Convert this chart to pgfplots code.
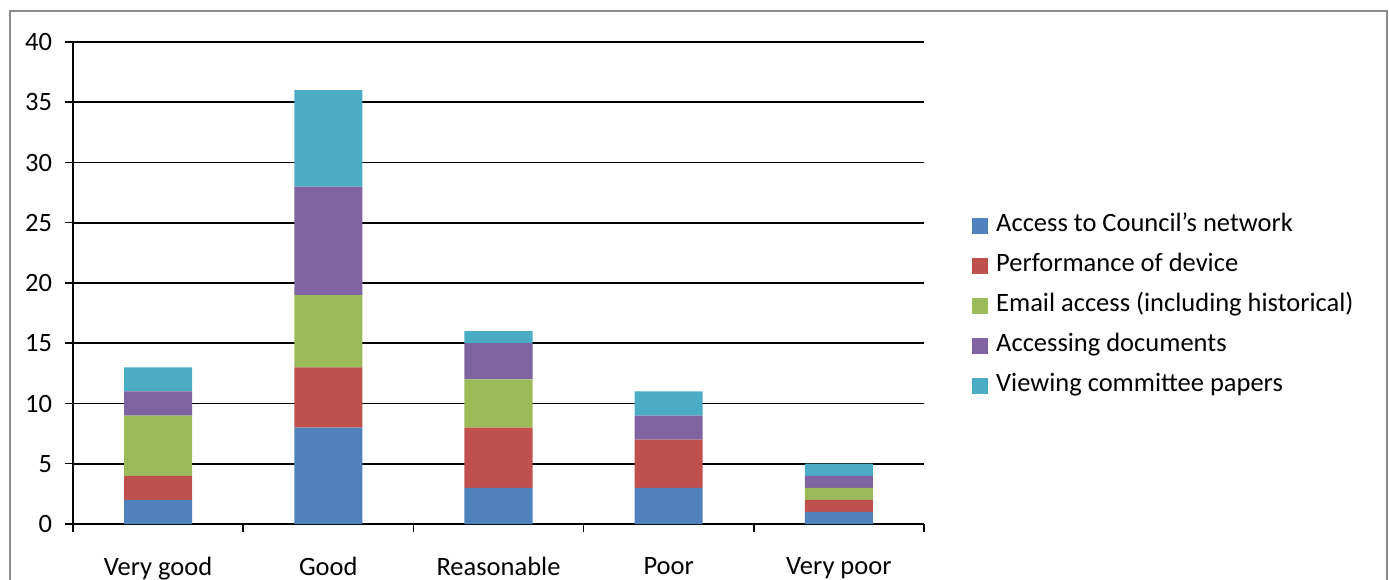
\documentclass[border=0pt]{standalone}
\usepackage{fontspec}
\setmainfont{Carlito}
\usepackage{pgfplots}
\pgfplotsset{compat=1.18}
\definecolor{cA}{HTML}{4F81BD}
\definecolor{cB}{HTML}{C0504D}
\definecolor{cC}{HTML}{9BBB59}
\definecolor{cD}{HTML}{8064A2}
\definecolor{cE}{HTML}{4BACC6}
\definecolor{frame}{HTML}{8C8C8C}
\begin{document}
\fontsize{26.5bp}{31bp}\selectfont
\begin{tikzpicture}
\useasboundingbox (0,0) rectangle (1389bp,580bp);
\draw[frame, line width=2bp] (9.5bp,-10bp) -- (9.5bp,569bp) -- (1387bp,569bp) -- (1387bp,-10bp);
\begin{axis}[
  at={(73bp,56bp)}, anchor=south west,
  scale only axis,
  width=851bp, height=482bp,
  ybar stacked,
  bar width=0.4,
  xmin=-0.5, xmax=4.5,
  ymin=0, ymax=40,
  ytick={0,5,...,40},
  xtick={0,1,2,3,4},
  xticklabels={Very good,Good,Reasonable,Poor,Very poor},
  extra x ticks={-0.5,0.5,1.5,2.5,3.5,4.5},
  extra x tick labels={},
  major tick length=8bp,
  x tick style={draw=none},
  extra x tick style={grid=none, x tick style={draw=black, line width=1.5bp}},
  y tick style={line width=1.5bp, black},
  tick align=outside,
  axis lines*=left,
  axis line style={line width=1.8bp, black},
  ymajorgrids,
  grid style={line width=1.8bp, black},
  /pgf/number format/assume math mode=true,
  ticklabel style={font=\fontsize{26.5bp}{31bp}\selectfont},
  xticklabel style={yshift=-16bp},
  yticklabel style={xshift=-4bp},
  legend style={at={(1.0564,0.4523)}, anchor=west, draw=none, inner sep=0pt,
    font=\fontsize{26.5bp}{31bp}\selectfont, row sep=16bp,
    nodes={inner sep=0pt, anchor=west, text height=18bp, text depth=6bp}},
  legend cell align=left,
  legend image code/.code={\fill[#1] (0bp,-8bp) rectangle (16bp,8bp); \path (24bp,0bp);},
  every axis plot/.append style={draw=none},
  clip=false,
]
\addplot[fill=cA] coordinates {(0,2) (1,8) (2,3) (3,3) (4,1)};
\addplot[fill=cB] coordinates {(0,2) (1,5) (2,5) (3,4) (4,1)};
\addplot[fill=cC] coordinates {(0,5) (1,6) (2,4) (3,0) (4,1)};
\addplot[fill=cD] coordinates {(0,2) (1,9) (2,3) (3,2) (4,1)};
\addplot[fill=cE] coordinates {(0,2) (1,8) (2,1) (3,2) (4,1)};
\legend{Access to Council’s network,Performance of device,Email access (including historical),Accessing documents,Viewing committee papers}
\end{axis}
\end{tikzpicture}
\end{document}
